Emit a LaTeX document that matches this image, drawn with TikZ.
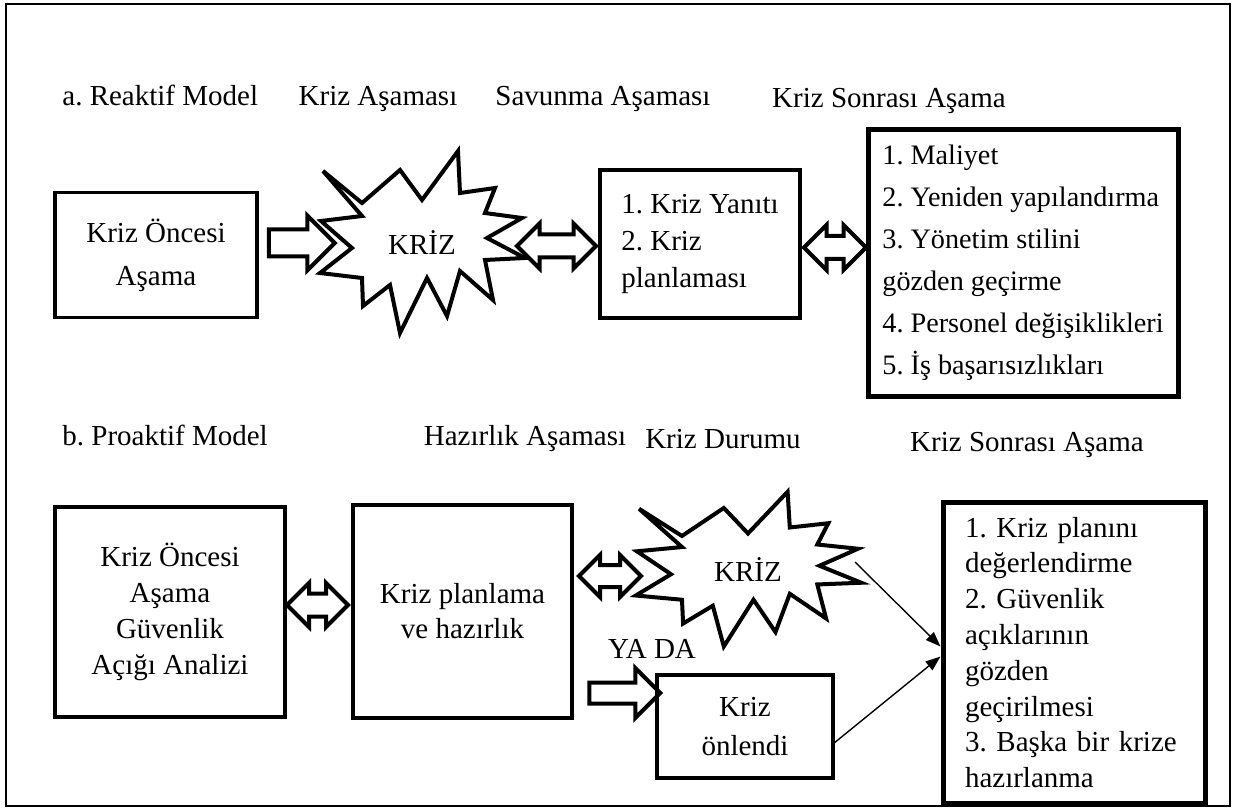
\documentclass[tikz,border=0pt]{standalone}
\usepackage{fontspec}
\setmainfont{Liberation Serif}
\usetikzlibrary{shapes.arrows,arrows.meta,calc}
\frenchspacing

\newcommand{\krizburst}{(-99,-72) -- (-60,-40) -- (-22,-73) -- (0,-43) -- (36,-92) -- (38,-50) -- (73,-55) -- (63,-30) -- (100,-25) -- (65,-5) -- (103,15) -- (63,17) -- (71,57) -- (38,28) -- (25,73) -- (5,35) -- (-22,90) -- (-32,42) -- (-59,63) -- (-60,35) -- (-102,30) -- (-70,5) -- (-101,-22) -- (-60,-27) -- cycle}

\tikzset{
	frame/.style={line width=1.3pt},
	head/.style={inner sep=0pt, anchor=base, font=\fontsize{14.5}{18}\selectfont},
	box/.style={draw, line width=1.75pt, inner sep=0pt, align=center, font=\fontsize{14.5}{18}\selectfont},
	listbox/.style={draw, line width=2.5pt, inner sep=0pt, align=left, font=\fontsize{14.5}{18}\selectfont},
	burst/.style={line width=2pt, line join=miter},
	fatarrow/.style={single arrow, draw, line width=2pt, inner sep=0pt},
	twinarrow/.style={double arrow, draw, line width=2pt, inner sep=0pt},
	thinarrow/.style={line width=0.7pt, -{Triangle[length=7.5pt,width=5.5pt]}},
}

\begin{document}
\begin{tikzpicture}[x=0.5pt, y=-0.5pt]
	\useasboundingbox (0,0) rectangle (1233,808);
	\draw[frame] (6,4) rectangle (1230,806);
	% a. reaktif model
	\node[head, anchor=base west] (ta1) at (62,106) {a. Reaktif Model};
	\node[head] (ta2) at (378,106) {Kriz Aşaması};
	\node[head] (ta3) at (603,106) {Savunma Aşaması};
	\node[head] (ta4) at (889,108) {Kriz Sonrası Aşama};
	\node[box, minimum width=101pt, minimum height=62.5pt, font=\fontsize{14.5}{21.5}\selectfont] (a1) at (156,255) {Kriz Öncesi\\Aşama};
	\node[head, anchor=center] (k1) at (422,243) {KRİZ};
	\draw[burst, shift={(k1.center)}] \krizburst;
	\node[box, align=left, minimum width=100pt, minimum height=74pt, font=\fontsize{14.5}{18.5}\selectfont] (s1) at (700,244) {1. Kriz Yanıtı\\2. Kriz\\planlaması};
	\node[listbox, minimum width=155pt, minimum height=133pt, font=\fontsize{14.1}{21}\selectfont] (r1) at (1023,263) {1. Maliyet\\2. Yeniden yapılandırma\\3. Yönetim stilini\\gözden geçirme\\4. Personel değişiklikleri\\5. İş başarısızlıkları};
	\node[fatarrow, text height=11.5pt, single arrow head extend=7pt, minimum height=33pt] (f1) at (295,243) {};
	\node[twinarrow, text height=9.5pt, double arrow head extend=5.5pt, minimum height=39.5pt] (f2) at (556.5,246) {};
	\node[twinarrow, text height=9.5pt, double arrow head extend=5.5pt, minimum height=31pt] (f3) at (835,247.5) {};
	% b. proaktif model
	\node[head, anchor=base west] (tb1) at (62,445) {b. Proaktif Model};
	\node[head] (tb2) at (525,445) {Hazırlık Aşaması};
	\node[head] (tb3) at (723,448) {Kriz Durumu};
	\node[head] (tb4) at (1027,451) {Kriz Sonrası Aşama};
	\node[box, minimum width=115pt, minimum height=105pt] (p1) at (170,612) {Kriz Öncesi\\Aşama\\Güvenlik\\Açığı Analizi};
	\node[box, minimum width=109.5pt, minimum height=106.5pt, font=\fontsize{14.5}{17.5}\selectfont] (h) at (462.5,611.5) {Kriz planlama\\ve hazırlık};
	\node[head, anchor=center] (k2) at (748,570) {KRİZ};
	\draw[burst, shift={(k2.center)}, xscale=1.1, yscale=0.85] \krizburst;
	\node[head] (yada) at (652,658) {YA DA};
	\node[box, minimum width=88pt, minimum height=51.5pt, font=\fontsize{14.5}{19.5}\selectfont] (n) at (745,726.5) {Kriz\\önlendi};
	\node[listbox, text width=109pt, inner xsep=11pt, minimum height=150.5pt, font=\fontsize{14.5}{17.9}\selectfont] (r2) at (1074,652.5) {1. Kriz planını\\değerlendirme\\2. Güvenlik\\açıklarının\\gözden\\geçirilmesi\\3. Başka bir krize\\hazırlanma};
	\node[twinarrow, text height=9.5pt, double arrow head extend=5.25pt, minimum height=30.5pt] (f4) at (317.5,605) {};
	\node[twinarrow, text height=9pt, double arrow head extend=5pt, minimum height=31pt] (f5) at (610,576) {};
	\node[fatarrow, text height=8.5pt, single arrow head extend=7.25pt, minimum height=35.5pt] (f6) at (619.5,693) {};
	\coordinate (k2out) at ($(k2)+(107,-8)$);
	\draw[thinarrow] (k2out) -- ($(r2.west)+(0,-6)$);
	\draw[thinarrow] ($(n.east)+(0,16)$) -- ($(r2.west)+(0,4)$);
\end{tikzpicture}
\end{document}
